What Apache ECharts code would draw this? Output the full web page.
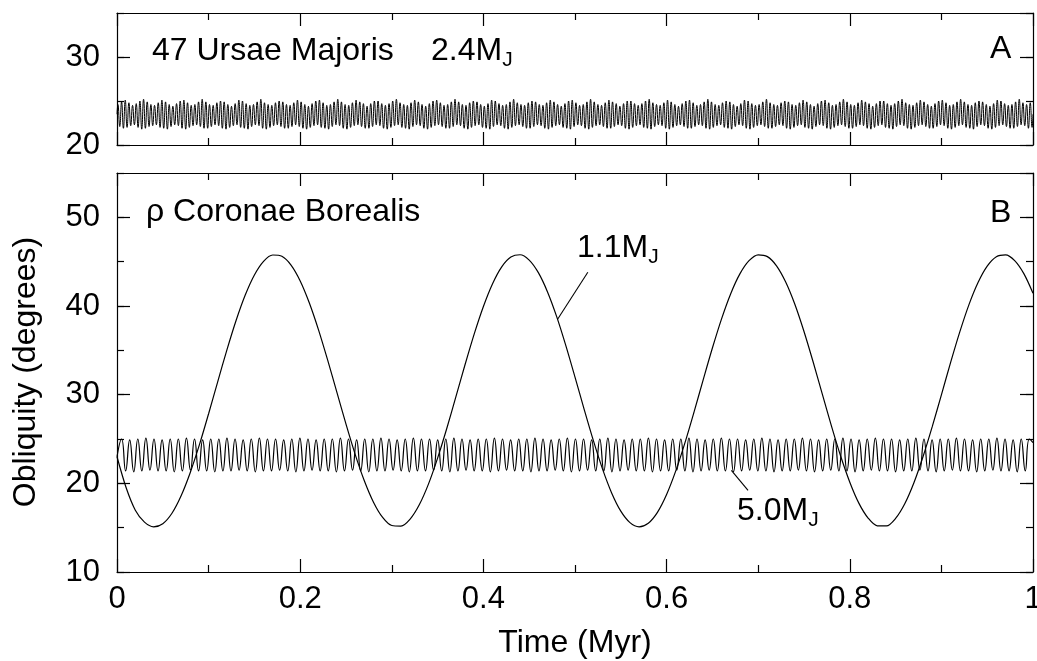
<!DOCTYPE html>
<html><head><meta charset="utf-8">
<script src="https://cdn.jsdelivr.net/npm/echarts@6/dist/echarts.min.js"></script>
<style>html,body{margin:0;padding:0;background:#fff}#c{width:1037px;height:661px}</style>
</head><body><div id="c"></div>
<script>
// ---- Panel B, 1.1 MJ (rho CrB) : time (Myr) and obliquity (deg)
const time11 = [0,0.01,0.02,0.03,0.04,0.05,0.06,0.07,0.08,0.09,0.10,0.11,0.12,0.13,0.14,0.15,0.16,0.17,0.18,0.19,
0.20,0.21,0.22,0.23,0.24,0.25,0.26,0.27,0.28,0.29,0.30,0.31,0.32,0.33,0.34,0.35,0.36,0.37,0.38,0.39,
0.40,0.41,0.42,0.43,0.44,0.45,0.46,0.47,0.48,0.49,0.50,0.51,0.52,0.53,0.54,0.55,0.56,0.57,0.58,0.59,
0.60,0.61,0.62,0.63,0.64,0.65,0.66,0.67,0.68,0.69,0.70,0.71,0.72,0.73,0.74,0.75,0.76,0.77,0.78,0.79,
0.80,0.81,0.82,0.83,0.84,0.85,0.86,0.87,0.88,0.89,0.90,0.91,0.92,0.93,0.94,0.95,0.96,0.97,0.98,0.99,1.00];
const obl11 = [23.0,19.5,16.97,15.62,15.10,15.45,16.63,18.60,21.23,24.36,27.85,31.48,35.05,38.36,41.23,43.50,45.04,45.75,45.61,44.62,
42.83,40.34,37.31,33.89,30.28,26.67,23.27,20.29,17.87,16.15,15.24,15.18,15.97,17.58,19.91,22.84,26.18,29.77,33.40,36.86,
39.95,42.52,44.42,45.52,45.78,45.18,43.76,41.59,38.80,35.53,31.98,28.35,24.84,21.63,18.92,16.86,15.57,15.10,15.50,16.73,
18.74,21.40,24.56,28.06,31.70,35.26,38.55,41.39,43.62,45.11,45.77,45.57,44.53,42.70,40.19,37.12,33.68,30.06,26.46,23.08,
20.13,17.74,16.08,15.21,15.20,16.05,17.70,20.07,23.03,26.39,29.98,33.61,37.05,40.13,42.65,44.50,45.56,45.77,45.12,43.65,41.44];

// ---- Panel B, 5.0 MJ : successive maxima / minima of obliquity (deg)
const peaks50 = [25.0,24.9,25.0,25.1,25.0,24.9,25.0,25.0,25.1,25.0,
24.9,25.0,25.0,25.1,25.0,24.9,25.0,25.1,25.0,25.0,
24.9,25.0,25.1,25.0,24.9,25.0,25.0,25.1,25.0,24.9,
25.0,25.0,25.1,25.0,24.9,25.0,25.1,25.0,25.0,24.9,
25.0,25.1,25.0,24.9,25.0,25.0,25.1,25.0,24.9,25.0,
25.0,25.1,25.0,24.9,25.0,25.1,25.0,25.0,24.9,25.0,
25.1,25.0,24.9,25.0,25.0,25.1,25.0,24.9,25.0,25.0,
25.1,25.0,24.9,25.0,25.1,25.0,25.0,24.9,25.0,25.1,
25.0,24.9,25.0,25.0,25.1,25.0,24.9,25.0,25.0,25.1,
25.0,24.9,25.0,25.1,25.0,25.0,24.9,25.0,25.1,25.0,
24.9,25.0,25.0,25.1,25.0,24.9,25.0,25.0,25.1,25.0,
24.9,25.0,25.0];
const troughs50 = [21.4,21.3,21.4,21.5,21.4,21.4,21.3,21.4,21.5,21.4,
21.4,21.3,21.4,21.4,21.5,21.4,21.3,21.4,21.4,21.5,
21.4,21.3,21.4,21.5,21.4,21.4,21.3,21.4,21.5,21.4,
21.3,21.4,21.4,21.5,21.4,21.3,21.4,21.4,21.5,21.4,
21.3,21.4,21.5,21.4,21.4,21.3,21.4,21.5,21.4,21.4,
21.3,21.4,21.4,21.5,21.4,21.3,21.4,21.5,21.4,21.4,
21.3,21.4,21.5,21.4,21.4,21.3,21.4,21.4,21.5,21.4,
21.3,21.4,21.5,21.4,21.4,21.3,21.4,21.5,21.4,21.4,
21.3,21.4,21.4,21.5,21.4,21.3,21.4,21.5,21.4,21.4,
21.3,21.4,21.5,21.4,21.4,21.3,21.4,21.4,21.5,21.4,
21.3,21.4,21.5,21.4,21.4,21.3,21.4,21.5,21.4,21.4,
21.3,21.4];
const ends50 = [23.0, 24.6];           // obliquity at t=0 and t=1
const span50 = [0.005, 0.996];         // time of first and last extremum

// ---- Panel A, 47 UMa 2.4 MJ : successive maxima / minima (deg)
const peaksUMa = [
24.6,24.9,25.1,24.8,24.5,24.7,25.0,25.2,24.9,24.6,24.5,24.8,25.1,24.9,24.6,24.4,24.7,25.0,25.1,24.8,24.5,24.6,24.9,25.2,24.9,
24.6,24.5,24.8,25.0,24.9,24.6,24.4,24.7,25.1,25.0,24.7,24.5,24.6,24.9,25.2,24.8,24.6,24.5,24.8,25.0,24.9,24.6,24.5,24.8,25.1,
24.9,24.6,24.4,24.7,25.0,25.1,24.8,24.5,24.6,24.9,25.2,24.9,24.6,24.5,24.8,25.1,24.9,24.7,24.4,24.7,25.0,25.0,24.7,24.5,24.7,
25.0,25.2,24.8,24.6,24.5,24.8,25.1,24.9,24.6,24.4,24.7,25.0,25.1,24.8,24.5,24.6,24.9,25.2,24.9,24.6,24.5,24.8,25.0,24.9,24.6,
24.4,24.7,25.1,25.0,24.7,24.5,24.6,24.9,25.2,24.8,24.6,24.5,24.8,25.0,24.9,24.6,24.5,24.8,25.1,24.9,24.6,24.4,24.7,25.0,25.1,
24.8,24.5,24.6,24.9,25.2,24.9,24.6,24.5,24.8,25.1,24.9,24.7,24.4,24.7,25.0,25.0,24.7,24.5,24.7,25.0,25.2,24.8,24.6,24.5,24.8,
25.1,24.9,24.6,24.4,24.7,25.0,25.1,24.8,24.5,24.6,24.9,25.2,24.9,24.6,24.5,24.8,25.0,24.9,24.6,24.4,24.7,25.1,25.0,24.7,24.5,
24.6,24.9,25.2,24.8,24.6,24.5,24.8,25.0,24.9,24.6,24.5,24.8,25.1,24.9,24.6,24.4,24.7,25.0,25.1,24.8,24.5,24.6,24.9,25.2,24.9,
24.6,24.5,24.8,25.1,24.9,24.7,24.4,24.7,25.0,25.0,24.7,24.5,24.7,25.0,25.2,24.8,24.6,24.5,24.8,25.1,24.9,24.6,24.4,24.7,25.0,
25.1,24.8,24.5,24.6,24.9,25.2,24.9,24.6,24.5,24.8,25.0,24.9,24.6,24.4,24.7,25.1,25.0,24.7,24.5,24.6,24.9,25.2,24.8,24.6,24.8];
const troughsUMa = [
22.1,21.9,22.0,22.2,22.3,22.0,21.8,21.9,22.1,22.2,22.3,22.0,21.9,21.8,22.1,22.3,22.2,21.9,21.8,22.0,22.2,22.3,22.1,21.9,21.9,
22.1,22.3,22.2,21.9,21.8,22.0,22.2,22.3,22.0,21.9,21.8,22.1,22.3,22.2,21.9,21.8,22.0,22.2,22.3,22.1,21.9,21.9,22.1,22.3,22.1,
21.9,21.8,22.0,22.2,22.3,22.0,21.9,21.8,22.1,22.3,22.2,21.9,21.8,22.0,22.2,22.3,22.1,21.9,21.9,22.1,22.3,22.2,21.9,21.8,22.0,
22.2,22.3,22.0,21.9,21.8,22.1,22.3,22.2,21.9,21.8,22.0,22.2,22.3,22.1,21.9,21.9,22.1,22.3,22.2,21.9,21.8,22.0,22.2,22.3,22.0,
21.9,21.8,22.1,22.3,22.2,21.9,21.8,22.0,22.2,22.3,22.1,21.9,21.9,22.1,22.3,22.2,21.9,21.8,22.0,22.2,22.3,22.0,21.9,21.8,22.1,
22.3,22.2,21.9,21.8,22.0,22.2,22.3,22.1,21.9,21.9,22.1,22.3,22.2,21.9,21.8,22.0,22.2,22.3,22.0,21.9,21.8,22.1,22.3,22.2,21.9,
21.8,22.0,22.2,22.3,22.1,21.9,21.9,22.1,22.3,22.2,21.9,21.8,22.0,22.2,22.3,22.0,21.9,21.8,22.1,22.3,22.2,21.9,21.8,22.0,22.2,
22.3,22.1,21.9,21.9,22.1,22.3,22.2,21.9,21.8,22.0,22.2,22.3,22.0,21.9,21.8,22.1,22.3,22.2,21.9,21.8,22.0,22.2,22.3,22.1,21.9,
21.9,22.1,22.3,22.2,21.9,21.8,22.0,22.2,22.3,22.0,21.9,21.8,22.1,22.3,22.2,21.9,21.8,22.0,22.2,22.3,22.1,21.9,21.9,22.1,22.3,
22.2,21.9,21.8,22.0,22.2,22.3,22.0,21.9,21.8,22.1,22.3,22.2,21.9,21.8,22.0,22.2,22.3,22.1,21.9,21.9,22.1,22.3,22.2,21.9,22.0];
const endsUMa = [23.5, 23.5];
const spanUMa = [0.001, 0.999];

// ---- axis tick labels / ranges
const xRange = [0, 1], xStep = 0.2;
const yRangeA = [20, 35], yRangeB = [10, 55], yStep = 10, yMinorStep = 5;

// ---- leader lines (data coordinates)
const lead11 = [[0.514, 43.8], [0.481, 38.5]];
const lead50 = [[0.6707, 21.45], [0.6889, 19.2]];

// build alternating extremum series on a uniform time grid
function extrema(peaks, troughs, span, ends) {
  const n = peaks.length + troughs.length;
  const h = (span[1] - span[0]) / (n - 1);
  const d = [[0, ends[0]]];
  let k = 0;
  for (let i = 0; i < peaks.length; i++) {
    d.push([span[0] + (k++) * h, peaks[i]]);
    if (i < troughs.length) d.push([span[0] + (k++) * h, troughs[i]]);
  }
  d.push([1, ends[1]]);
  return d;
}
const dataUMa = extrema(peaksUMa, troughsUMa, spanUMa, endsUMa);
const data50 = extrema(peaks50, troughs50, span50, ends50);
const data11 = time11.map((t, i) => [t, obl11[i]]);

const FONT = '"Liberation Sans", Arial, Helvetica, sans-serif';
const BLK = '#000';
const lineSt = { color: BLK, width: 1.2 };

function xAx(grid, pos, labels) {
  return {
    type: 'value', gridIndex: grid, position: pos, min: xRange[0], max: xRange[1], interval: xStep,
    axisLine: { show: true, onZero: false, lineStyle: lineSt },
    axisTick: { show: true, inside: true, length: 13, lineStyle: lineSt },
    minorTick: { show: true, splitNumber: 2, length: 7, lineStyle: lineSt },
    axisLabel: labels ? { show: true, color: BLK, fontFamily: FONT, fontSize: 31, margin: 12 } : { show: false },
    splitLine: { show: false }, minorSplitLine: { show: false }
  };
}
function yAx(grid, pos, range, step, len, labels, line) {
  return {
    type: 'value', gridIndex: grid, position: pos, min: range[0], max: range[1], interval: step,
    axisLine: { show: line, onZero: false, lineStyle: lineSt },
    axisTick: { show: true, inside: true, length: len, lineStyle: lineSt },
    axisLabel: labels ? { show: true, color: BLK, fontFamily: FONT, fontSize: 31, margin: 17, showMaxLabel: false } : { show: false },
    splitLine: { show: false }
  };
}

const chart = echarts.init(document.getElementById('c'), null, { renderer: 'canvas' });

function tx(x, y, text, opts) {
  return {
    type: 'text', x: x, y: y, silent: true,
    style: Object.assign({ text: text, font: '32px ' + FONT, fill: BLK,
      align: 'left', textAlign: 'left', verticalAlign: 'middle', textVerticalAlign: 'middle' }, opts || {})
  };
}
function mj(x, y, text) {
  return {
    type: 'text', x: x, y: y, silent: true,
    style: {
      text: '{m|' + text + '}{s|J}', fill: BLK, align: 'left', textAlign: 'left',
      verticalAlign: 'top', textVerticalAlign: 'top',
      rich: {
        m: { fontSize: 32, fontFamily: FONT, lineHeight: 40, fill: BLK, color: BLK },
        s: { fontSize: 21, fontFamily: FONT, lineHeight: 14, verticalAlign: 'bottom', fill: BLK, color: BLK }
      }
    }
  };
}

chart.setOption({
  animation: false,
  backgroundColor: '#fff',
  grid: [
    { left: 117, top: 13, width: 916, height: 132, containLabel: false, outerBoundsMode: 'none' },
    { left: 117, top: 173, width: 916, height: 399, containLabel: false, outerBoundsMode: 'none' }
  ],
  xAxis: [xAx(0, 'bottom', false), xAx(0, 'top', false), xAx(1, 'bottom', true), xAx(1, 'top', false)],
  yAxis: [
    yAx(0, 'left', yRangeA, yStep, 13, true, true),
    yAx(0, 'right', yRangeA, yStep, 13, false, true),
    yAx(0, 'left', yRangeA, yMinorStep, 7, false, false),
    yAx(0, 'right', yRangeA, yMinorStep, 7, false, false),
    yAx(1, 'left', yRangeB, yStep, 13, true, true),
    yAx(1, 'right', yRangeB, yStep, 13, false, true),
    yAx(1, 'left', yRangeB, yMinorStep, 7, false, false),
    yAx(1, 'right', yRangeB, yMinorStep, 7, false, false)
  ],
  series: [
    { type: 'line', name: '47 UMa', xAxisIndex: 0, yAxisIndex: 0, data: dataUMa, smooth: true,
      showSymbol: false, symbol: 'none', lineStyle: { color: BLK, width: 1 }, silent: true },
    { type: 'line', name: '1.1MJ', xAxisIndex: 2, yAxisIndex: 4, data: data11, smooth: 0.3,
      showSymbol: false, symbol: 'none', lineStyle: { color: BLK, width: 1.2 }, silent: true,
      markLine: { silent: true, symbol: ['none', 'none'], label: { show: false },
        lineStyle: { color: BLK, width: 1.1, type: 'solid' },
        data: [[{ coord: lead11[0] }, { coord: lead11[1] }]] } },
    { type: 'line', name: '5.0MJ', xAxisIndex: 2, yAxisIndex: 4, data: data50, smooth: true,
      showSymbol: false, symbol: 'none', lineStyle: { color: BLK, width: 1.2 }, silent: true,
      markLine: { silent: true, symbol: ['none', 'none'], label: { show: false },
        lineStyle: { color: BLK, width: 1.1, type: 'solid' },
        data: [[{ coord: lead50[0] }, { coord: lead50[1] }]] } }
  ],
  graphic: [
    tx(152, 51, '47 Ursae Majoris'),
    mj(431, 31, '2.4M'),
    tx(990, 49, 'A'),
    tx(146, 212, 'ρ Coronae Borealis'),
    tx(990, 213, 'B'),
    mj(577, 228, '1.1M'),
    mj(737, 491, '5.0M'),
    tx(575, 643, 'Time (Myr)', { align: 'center', textAlign: 'center' }),
    { type: 'text', x: 26, y: 372, rotation: Math.PI / 2, silent: true,
      style: { text: 'Obliquity (degrees)', font: '32px ' + FONT, fill: BLK,
        align: 'center', textAlign: 'center', verticalAlign: 'middle', textVerticalAlign: 'middle' } }
  ]
});
</script>
</body></html>
